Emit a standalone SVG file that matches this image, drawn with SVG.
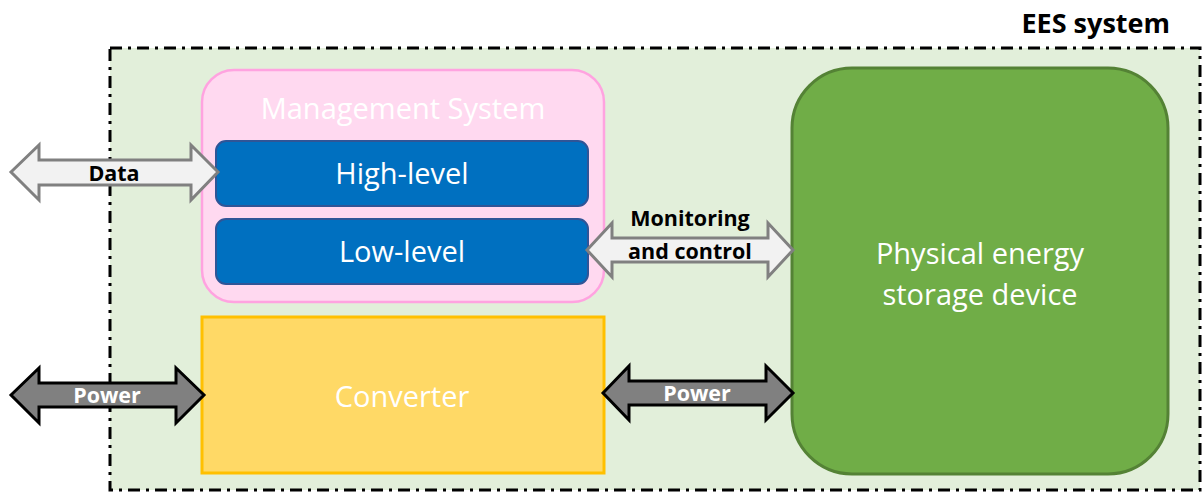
<svg xmlns="http://www.w3.org/2000/svg" width="1202" height="495" viewBox="0 0 1202 495">
<style>
text{font-family:"Open Sans","Liberation Sans",sans-serif;text-anchor:middle}
.w{fill:#fff;font-size:29px}
.lb{font-weight:bold;font-size:21.5px}
.da{fill:#F2F2F2;stroke:#808080;stroke-width:3;stroke-linejoin:miter}
.pa{fill:#808080;stroke:#000;stroke-width:3;stroke-linejoin:miter}
</style>
<rect width="1202" height="495" fill="#fff"/>
<g id="ees">
<rect x="110" y="48" width="1090" height="442" fill="#E2EFDA" stroke="#000" stroke-width="3" stroke-dasharray="12 6 3 6"/>
<text x="1170" y="33" style="text-anchor:end;font-weight:bold;font-size:27px" fill="#000">EES system</text>
</g>
<g id="management">
<rect x="202" y="70" width="402" height="232" rx="32" fill="#FFD9F0" stroke="#FFA3E0" stroke-width="2.5"/>
<text class="w" x="403" y="119">Management System</text>
</g>
<g id="high-level">
<rect x="216" y="141" width="372" height="65" rx="10" fill="#0070C0" stroke="#2F5597" stroke-width="2"/>
<text class="w" x="402" y="184">High-level</text>
</g>
<g id="low-level">
<rect x="216" y="219" width="372" height="65" rx="10" fill="#0070C0" stroke="#2F5597" stroke-width="2"/>
<text class="w" x="402" y="262">Low-level</text>
</g>
<g id="converter">
<rect x="202" y="317" width="402" height="156" fill="#FFD966" stroke="#FFC000" stroke-width="3"/>
<text class="w" x="402" y="407">Converter</text>
</g>
<g id="storage">
<rect x="792" y="68" width="376" height="406" rx="60" fill="#70AD47" stroke="#548235" stroke-width="3"/>
<text class="w" x="980" y="264">Physical energy</text>
<text class="w" x="980" y="305">storage device</text>
</g>
<g id="connectors">
<path class="da" d="M11,172 L39,145 L39,160 L191,160 L191,145 L218,172 L191,200 L191,185 L39,185 L39,200 Z"/>
<text class="lb" x="114" y="181" fill="#000">Data</text>
<path class="da" d="M587,250 L612,223 L612,238 L768,238 L768,223 L793,250 L768,277 L768,262 L612,262 L612,277 Z"/>
<text class="lb" x="690" y="226" fill="#000">Monitoring</text>
<text class="lb" x="690" y="259" fill="#000">and control</text>
<path class="pa" d="M11,395 L39,368 L39,383 L176,383 L176,368 L204,395 L176,423 L176,407 L39,407 L39,423 Z"/>
<text class="lb" x="107" y="403" fill="#fff">Power</text>
<path class="pa" d="M603,393 L629,366 L629,381 L766,381 L766,366 L793,393 L766,420 L766,405 L629,405 L629,420 Z"/>
<text class="lb" x="697" y="401" fill="#fff">Power</text>
</g>
</svg>
